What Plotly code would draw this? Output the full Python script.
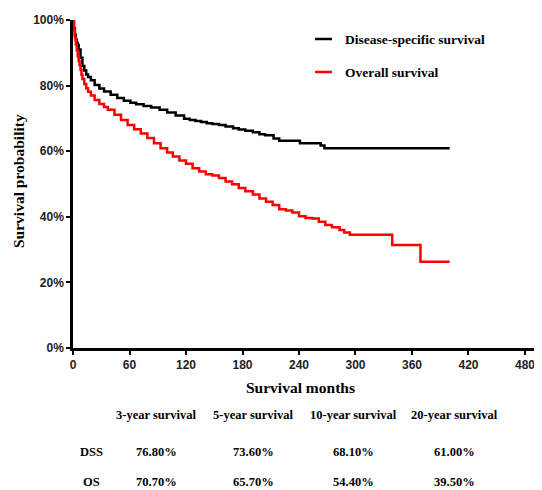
import plotly.graph_objects as go

# ---- data ----
dss_months = [0, 1, 2, 3, 4, 5, 6, 8, 10, 12, 14, 16, 19, 23, 28, 33, 40, 47, 54, 61, 67, 75, 83,
              92, 100, 109, 118, 124, 130, 136, 142, 148, 155, 162, 170, 176, 183, 191, 198, 204,
              213, 219, 241, 263, 267, 400]
dss_surv = [100, 97.5, 95.5, 94, 93, 92.4, 91, 88.5, 86, 84.6, 83.4, 82.6, 81.6, 80.2, 79.1, 78.2,
            77.2, 76.2, 75.4, 74.8, 74.3, 73.8, 73.3, 72.6, 71.8, 70.9, 69.9, 69.5, 69.2, 68.9,
            68.5, 68.3, 68.0, 67.5, 67.0, 66.6, 66.2, 65.8, 65.2, 64.9, 63.9, 63.2, 62.4, 61.7,
            60.9, 60.9]

os_months = [0, 1, 2, 3, 4, 5, 6, 7, 8, 9, 10, 12, 14, 16, 19, 23, 28, 33, 37, 44, 51, 58, 65, 72,
             79, 86, 93, 100, 106, 113, 120, 127, 134, 141, 148, 155, 162, 169, 176, 183, 191, 198,
             205, 212, 219, 226, 233, 240, 247, 254, 261, 268, 275, 283, 288, 294, 339, 369, 400]
os_surv = [100, 97, 94.5, 92.5, 90.8, 89, 87.5, 86.3, 84.8, 83.3, 82, 80.5, 79.2, 78.1, 77, 75.6,
           74.4, 73.5, 72.6, 71.1, 69.5, 68, 66.7, 65.4, 64, 62.4, 60.9, 59.6, 58.4, 57.2, 56.2,
           54.8, 53.8, 53.0, 52.6, 51.8, 50.8, 49.9, 48.8, 47.8, 46.8, 45.6, 44.6, 43.6, 42.3,
           41.9, 41.3, 40.2, 39.6, 39.5, 38.5, 37.5, 36.8, 36.0, 35.2, 34.5, 31.4, 26.3, 26.3]

series_names = ["Disease-specific survival", "Overall survival"]
x_ticks = [0, 60, 120, 180, 240, 300, 360, 420, 480]
y_ticks = [0, 20, 40, 60, 80, 100]
y_tick_labels = ["0%", "20%", "40%", "60%", "80%", "100%"]

table_headers = ["3-year survival", "5-year survival", "10-year survival", "20-year survival"]
table_rows = ["DSS", "OS"]
dss_table = ["76.80%", "73.60%", "68.10%", "61.00%"]
os_table = ["70.70%", "65.70%", "54.40%", "39.50%"]

# ---- layout geometry (reference pixels; page body has an 8px margin) ----
OFF = 8
W, H = 542 - OFF, 490 - OFF
L, T, B, R = 73, 20, 348, 541        # plot area in reference pixels
pw, ph = R - L, B - T

def px(x):
    return (x - L) / pw

def py(y):
    return (B - y) / ph

serif = "Liberation Serif, Times New Roman, serif"
sans = "Liberation Sans, Arial, sans-serif"

fig = go.Figure()
fig.add_trace(go.Scatter(x=dss_months, y=dss_surv, mode="lines", line_shape="hv",
                         line=dict(color="black", width=2.5), name=series_names[0]))
fig.add_trace(go.Scatter(x=os_months, y=os_surv, mode="lines", line_shape="hv",
                         line=dict(color="#ff0000", width=2.5), name=series_names[1]))

axis_common = dict(showgrid=False, zeroline=False, showline=True, linecolor="black", linewidth=2.5,
                   ticks="outside", ticklen=4, tickwidth=2, tickcolor="black", automargin=False,
                   tickfont=dict(family=sans, size=12, color="#222", weight="bold"))

fig.update_layout(
    width=W, height=H,
    margin=dict(l=L - OFF, r=W - (R - OFF), t=T - OFF, b=H - (B - OFF), pad=0, autoexpand=False),
    paper_bgcolor="white", plot_bgcolor="white",
    showlegend=False,
    xaxis=dict(range=[0, 497], tickvals=x_ticks, ticktext=[str(v) for v in x_ticks], **axis_common),
    yaxis=dict(range=[0, 100], tickvals=y_ticks, ticktext=y_tick_labels, **axis_common),
)

ann = []
# axis titles
ann.append(dict(text="Survival months", x=px(300), y=py(387), xref="paper", yref="paper",
                showarrow=False, xanchor="center", yanchor="middle",
                font=dict(family=serif, size=15.5, color="black", weight="bold")))
ann.append(dict(text="Survival probability", x=px(18), y=py(181), xref="paper", yref="paper",
                showarrow=False, textangle=-90, xanchor="center", yanchor="middle",
                font=dict(family=serif, size=15.5, color="black", weight="bold")))

# legend (manual)
legend_y = [39, 72]
legend_colors = ["black", "#ff0000"]
shapes = []
for name, ly, col in zip(series_names, legend_y, legend_colors):
    shapes.append(dict(type="line", xref="paper", yref="paper", x0=px(315), x1=px(332),
                       y0=py(ly), y1=py(ly), line=dict(color=col, width=2.5)))
    ann.append(dict(text=name, x=px(343), y=py(ly), xref="paper", yref="paper",
                    showarrow=False, xanchor="left", yanchor="middle",
                    font=dict(family=serif, size=13.5, color="black", weight="bold")))

# table
col_x = [156, 253, 353, 454]
for h, cx in zip(table_headers, col_x):
    ann.append(dict(text=h, x=px(cx), y=py(415), xref="paper", yref="paper",
                    showarrow=False, xanchor="center", yanchor="middle",
                    font=dict(family=serif, size=12.5, color="black", weight="bold")))
for rname, vals, ry in zip(table_rows, [dss_table, os_table], [452, 482]):
    ann.append(dict(text=rname, x=px(91), y=py(ry), xref="paper", yref="paper",
                    showarrow=False, xanchor="center", yanchor="middle",
                    font=dict(family=serif, size=12.5, color="black", weight="bold")))
    for v, cx in zip(vals, col_x):
        ann.append(dict(text=v, x=px(cx), y=py(ry), xref="paper", yref="paper",
                        showarrow=False, xanchor="center", yanchor="middle",
                        font=dict(family=serif, size=12.5, color="black", weight="bold")))

fig.update_layout(annotations=ann, shapes=shapes)
fig.write_html("out.html")
